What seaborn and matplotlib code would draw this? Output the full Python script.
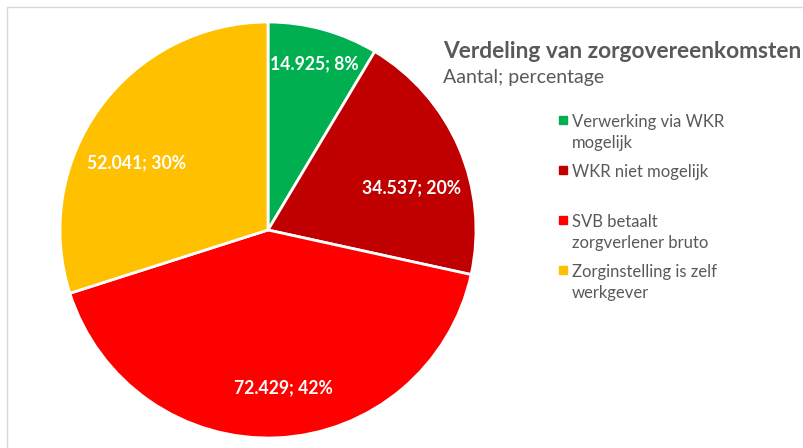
import matplotlib
matplotlib.use("Agg")
import numpy as np
import matplotlib.pyplot as plt
import seaborn as sns
from matplotlib.lines import Line2D

# Data
categories = [
    "Verwerking via WKR\nmogelijk",
    "WKR niet mogelijk",
    "SVB betaalt\nzorgverlener bruto",
    "Zorginstelling is zelf\nwerkgever",
]
aantallen = [14925, 34537, 72429, 52041]
percentages = [8, 20, 42, 30]
colors = ["#00B050", "#C00000", "#FF0000", "#FFC000"]

title = "Verdeling van zorgovereenkomsten"
subtitle = "Aantal; percentage"

sns.set_theme(style="white")
plt.rcParams["font.family"] = ["Lato", "DejaVu Sans"]

W, H = 804, 448
fig = plt.figure(figsize=(W / 100, H / 100), dpi=100)
fig.patch.set_facecolor("white")

def fx(px):
    return px / W

def fy(py):
    return 1 - py / H

# thin frame (top + left) like the Excel chart area
fig.add_artist(Line2D([fx(7), 1], [fy(7), fy(7)], color="#D9D9D9", lw=1))
fig.add_artist(Line2D([fx(7), fx(7)], [fy(7), 0], color="#D9D9D9", lw=1))

# pie axes: centre (268, 230), radius ~208 px
ax = fig.add_axes([fx(60), fy(438), 416 / W, 416 / H])
palette = sns.color_palette(colors)
wedges, _ = ax.pie(
    aantallen,
    colors=palette,
    startangle=90,
    counterclock=False,
    radius=1,
    wedgeprops=dict(edgecolor="white", linewidth=2),
)
ax.set_xlim(-1.0, 1.0)
ax.set_ylim(-1.0, 1.0)
ax.set_aspect("equal")
ax.axis("off")

# data labels
label_r = [0.83, 0.72, 0.76, 0.71]
label_shift = [0, -7, 3, 9]
for w, v, p, r, s in zip(wedges, aantallen, percentages, label_r, label_shift):
    mid = np.deg2rad((w.theta1 + w.theta2) / 2 + s)
    txt = f"{v:,}".replace(",", ".") + f"; {p}%"
    ax.text(r * np.cos(mid), r * np.sin(mid), txt, ha="center", va="center",
            color="white", fontsize=12.7, fontweight="bold")

# title block
fig.text(fx(443), fy(52), title, ha="left", va="center", fontsize=16.4,
         fontweight="bold", color="#595959")
fig.text(fx(443), fy(78), subtitle, ha="left", va="center", fontsize=14,
         color="#595959")

# legend
legend_y = [120, 170, 220, 270]
for cat, col, y in zip(categories, colors, legend_y):
    fig.add_artist(Line2D([fx(563)], [fy(y)], marker="s", markersize=6,
                          color=col, linestyle="none"))
    fig.text(fx(572), fy(y - 6), cat, ha="left", va="top", fontsize=12,
             color="#595959", linespacing=1.4)

fig.savefig("out.png", dpi=100, facecolor="white")
